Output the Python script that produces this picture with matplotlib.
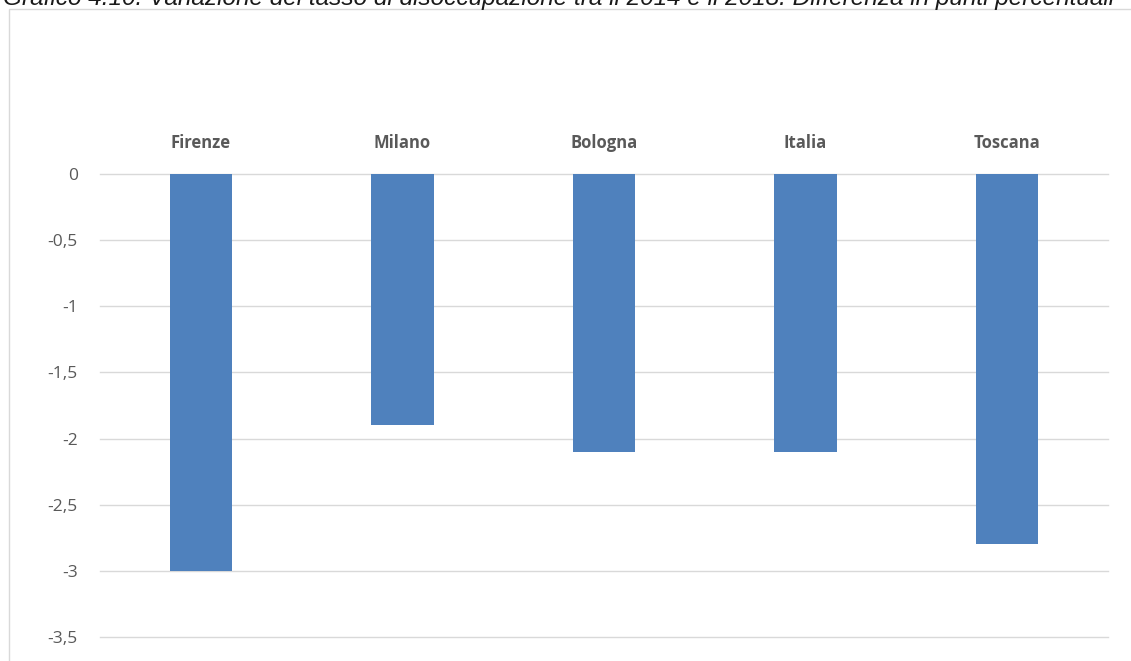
import matplotlib
matplotlib.use("Agg")
import matplotlib.pyplot as plt
from matplotlib.patches import Rectangle

categories = ["Firenze", "Milano", "Bologna", "Italia", "Toscana"]
values = [-3.0, -1.9, -2.1, -2.1, -2.8]
yticks = [0, -0.5, -1, -1.5, -2, -2.5, -3, -3.5]
ytick_labels = ["0", "-0,5", "-1", "-1,5", "-2", "-2,5", "-3", "-3,5"]
title = "Grafico 4.10. Variazione del tasso di disoccupazione tra il 2014 e il 2018. Differenza in punti percentuali"

W, H = 1131, 661
fig = plt.figure(figsize=(W / 100, H / 100), dpi=100)

# outer chart border
fig.patches.append(Rectangle((9 / W, -0.01), 1.0, 1 - 9 / H + 0.01, transform=fig.transFigure,
                             fill=False, edgecolor="#d9d9d9", linewidth=1.0))

fig.text(3 / W, 1 - 5 / H, title, fontsize=17.6, style="italic", family="Liberation Sans",
         color="#1a1a1a", va="baseline", ha="left")

ax = fig.add_axes([100 / W, 1 - 637 / H, (1108 - 100) / W, (637 - 174) / H])
x = list(range(len(categories)))
ax.bar(x, values, width=0.31, color="#4f81bd", zorder=3)
ax.set_xlim(-0.5, len(categories) - 0.5)
ax.set_ylim(-3.5, 0)
ax.set_yticks(yticks)
ax.set_yticklabels(ytick_labels)
ax.yaxis.grid(True, color="#d9d9d9", linewidth=1.0, zorder=0)
for gl in ax.get_ygridlines():
    gl.set_clip_on(False)
ax.set_axisbelow(True)
for s in ax.spines.values():
    s.set_visible(False)
ax.tick_params(axis="y", length=0, pad=16, labelsize=12.5, labelcolor="#595959")
for lab in ax.get_yticklabels():
    lab.set_family("Open Sans")

ax.xaxis.tick_top()
ax.set_xticks(x)
ax.set_xticklabels(categories, fontweight="bold", family="Open Sans", fontsize=12, color="#595959")
ax.tick_params(axis="x", length=0, pad=16)

fig.savefig("out.png", dpi=100)
